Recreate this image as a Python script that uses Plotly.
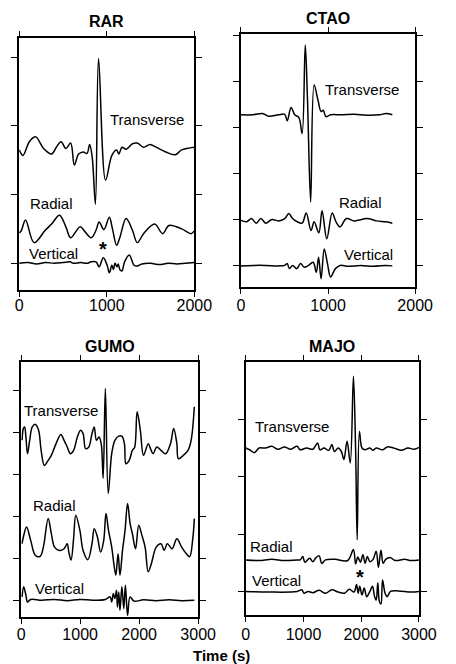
import plotly.graph_objects as go

# ---------------- DATA (time in s, amplitude in arbitrary trace units) ----------------
# RAR
RAR_T_t = [0, 43, 116, 188, 279, 370, 424, 478, 533, 587, 630, 678, 732, 775, 804, 833, 870, 906, 986,
           1058, 1112, 1138, 1174, 1221, 1293, 1348, 1420, 1493, 1565, 1674, 1783, 1855, 2000]
RAR_T_v = [1.65, 1.57, 1.77, 1.84, 1.67, 1.59, 1.69, 1.77, 1.67, 1.75, 1.43, 1.59, 1.62, 1.60, 1.73, 1.55,
           0.86, 2.98, 1.21, 1.57, 1.65, 1.59, 1.69, 1.66, 1.74, 1.75, 1.69, 1.73, 1.69, 1.62, 1.58, 1.65, 1.69]
RAR_R_t = [0, 25, 72, 170, 297, 370, 460, 533, 587, 696, 750, 822, 877, 913, 967, 1029, 1065, 1112, 1148,
           1221, 1293, 1348, 1420, 1547, 1638, 1710, 1855, 1964, 2000]
RAR_R_v = [0.44, 0.48, 0.63, 0.30, 0.48, 0.57, 0.70, 0.53, 0.37, 0.53, 0.46, 0.37, 0.48, 0.60, 0.49, 0.67,
           0.50, 0.26, 0.37, 0.65, 0.48, 0.30, 0.43, 0.57, 0.43, 0.55, 0.50, 0.43, 0.47]
RAR_Z_t = [0, 100, 200, 300, 400, 500, 580, 620, 700, 780, 820, 877, 913, 960, 1004, 1029, 1058, 1076, 1094,
           1116, 1130, 1152, 1174, 1203, 1257, 1312, 1348, 1400, 1500, 1600, 1700, 1800, 1900, 2000]
RAR_Z_v = [0.0, 0.01, -0.01, 0.01, 0.0, 0.01, 0.02, 0.0, 0.01, 0.0, 0.02, 0.02, -0.05, 0.08, -0.03, -0.14,
           -0.03, -0.09, 0.0, -0.05, -0.01, -0.10, -0.11, 0.02, 0.12, -0.03, -0.04, -0.01, 0.0, -0.02, 0.0,
           -0.01, 0.0, 0.01]

# CTAO
CTAO_T_t = [0, 138, 247, 320, 429, 502, 531, 575, 618, 665, 702, 738, 764, 800, 840, 884, 920, 945, 975,
            1029, 1156, 1302, 1447, 1593, 1665, 1738]
CTAO_T_v = [3.28, 3.28, 3.31, 3.25, 3.28, 3.29, 3.15, 3.44, 3.28, 3.22, 2.87, 4.80, 3.60, 1.38, 3.93, 3.60,
            3.35, 3.38, 3.24, 3.28, 3.28, 3.29, 3.27, 3.28, 3.31, 3.28]
CTAO_R_t = [0, 65, 120, 175, 229, 284, 356, 429, 502, 549, 593, 647, 702, 749, 804, 840, 894, 931, 985,
            1047, 1091, 1138, 1211, 1302, 1447, 1556, 1665, 1738]
CTAO_R_v = [0.98, 0.95, 1.02, 0.92, 1.02, 0.92, 1.00, 0.97, 1.02, 1.13, 1.02, 0.95, 0.92, 1.14, 0.76, 0.95,
            0.71, 1.19, 0.58, 1.14, 0.95, 0.84, 1.02, 0.97, 1.02, 0.97, 0.95, 0.92]
CTAO_Z_t = [0, 138, 284, 429, 502, 531, 556, 593, 640, 684, 727, 775, 829, 865, 891, 920, 956, 993, 1029,
            1084, 1138, 1229, 1374, 1520, 1665, 1738]
CTAO_Z_v = [-0.01, 0.0, 0.0, -0.01, 0.0, 0.04, -0.07, 0.0, -0.07, 0.04, -0.04, 0.0, 0.07, -0.15, 0.18, -0.29,
            0.36, 0.04, -0.25, -0.07, 0.0, -0.02, 0.0, -0.02, 0.0, -0.01]

# GUMO
GUMO_T_t = [16, 38, 59, 81, 108, 145, 189, 242, 296, 339, 393, 458, 512, 592, 673, 727, 781, 835, 889, 953,
            1007, 1050, 1093, 1147, 1201, 1239, 1276, 1320, 1357, 1390, 1427, 1476, 1535, 1589, 1654, 1707,
            1750, 1777, 1831, 1885, 1923, 1966, 2020, 2074, 2154, 2192, 2235, 2300, 2370, 2451, 2531, 2585,
            2639, 2666, 2747, 2828, 2881, 2935]
GUMO_T_v = [3.82, 4.10, 4.14, 3.90, 3.50, 3.82, 4.14, 4.20, 4.06, 3.58, 3.22, 3.34, 3.46, 3.74, 3.96, 3.82,
            3.66, 3.50, 3.58, 3.90, 4.06, 3.98, 3.62, 3.66, 3.98, 4.14, 3.82, 3.90, 3.74, 2.91, 5.06, 2.55,
            3.50, 3.82, 3.92, 3.92, 3.74, 3.26, 3.34, 3.58, 3.65, 4.50, 4.06, 3.46, 3.74, 3.62, 3.50, 3.66,
            3.58, 3.50, 3.74, 4.10, 3.74, 3.38, 3.46, 3.58, 3.82, 4.62]
GUMO_R_t = [16, 38, 92, 162, 242, 323, 377, 458, 512, 566, 646, 727, 781, 808, 846, 889, 926, 996, 1050,
            1131, 1201, 1239, 1293, 1347, 1400, 1438, 1481, 1535, 1578, 1605, 1643, 1675, 1718, 1761, 1804,
            1847, 1885, 1939, 1993, 2047, 2101, 2154, 2208, 2289, 2370, 2424, 2478, 2558, 2639, 2720, 2801,
            2855, 2909, 2935]
GUMO_R_v = [1.35, 1.51, 1.75, 1.43, 1.07, 1.05, 1.27, 1.95, 1.59, 1.27, 1.19, 1.23, 1.35, 1.15, 0.96, 1.47,
            2.03, 1.67, 1.19, 0.97, 1.35, 1.71, 1.51, 1.15, 1.43, 2.07, 1.67, 1.27, 0.80, 0.60, 1.11, 0.60,
            1.19, 1.67, 2.31, 1.83, 1.59, 1.23, 1.79, 1.55, 1.27, 0.68, 0.88, 1.27, 1.35, 1.19, 1.35, 1.23,
            1.47, 1.27, 1.11, 1.04, 1.47, 1.95]
GUMO_Z_t = [16, 43, 81, 108, 162, 350, 566, 781, 996, 1212, 1427, 1508, 1535, 1562, 1589, 1616, 1632, 1654,
            1675, 1707, 1740, 1767, 1804, 1847, 1912, 2074, 2289, 2505, 2720, 2935]
GUMO_Z_v = [0.08, 0.32, 0.12, -0.04, 0.02, 0.0, 0.02, -0.01, 0.02, 0.0, 0.02, 0.08, -0.04, 0.16, 0.04, 0.24,
            -0.16, 0.20, -0.24, 0.32, -0.20, 0.36, -0.36, 0.08, -0.02, 0.01, -0.01, 0.01, -0.01, 0.0]

# MAJO
MAJO_T_t = [0, 66, 148, 230, 340, 450, 559, 669, 779, 888, 943, 1053, 1163, 1245, 1283, 1355, 1437, 1492,
            1536, 1601, 1656, 1700, 1755, 1810, 1865, 1903, 1930, 1969, 2013, 2067, 2150, 2205, 2259, 2369,
            2451, 2561, 2698, 2808, 2917, 3000]
MAJO_T_v = [2.50, 2.47, 2.42, 2.50, 2.50, 2.53, 2.48, 2.52, 2.48, 2.53, 2.47, 2.50, 2.48, 2.59, 2.47, 2.50,
            2.46, 2.56, 2.44, 2.50, 2.44, 2.30, 2.62, 2.24, 3.75, 2.47, 0.90, 2.79, 2.50, 2.47, 2.50, 2.46,
            2.50, 2.47, 2.52, 2.50, 2.46, 2.50, 2.48, 2.51]
MAJO_R_t = [0, 230, 450, 669, 888, 943, 987, 1025, 1108, 1163, 1217, 1272, 1316, 1382, 1547, 1766, 1865,
            1903, 1941, 1985, 2029, 2067, 2106, 2150, 2205, 2259, 2298, 2342, 2380, 2424, 2506, 2588, 2753,
            2863, 3000]
MAJO_R_v = [0.55, 0.54, 0.56, 0.54, 0.55, 0.55, 0.61, 0.51, 0.58, 0.52, 0.59, 0.62, 0.49, 0.55, 0.56, 0.54,
            0.73, 0.48, 0.60, 0.51, 0.64, 0.49, 0.61, 0.52, 0.56, 0.70, 0.42, 0.72, 0.49, 0.56, 0.59, 0.54,
            0.56, 0.54, 0.55]
MAJO_Z_t = [0, 395, 888, 971, 1009, 1080, 1163, 1272, 1382, 1492, 1601, 1711, 1793, 1876, 1919, 1947, 1974,
            2013, 2051, 2095, 2150, 2194, 2232, 2259, 2287, 2314, 2342, 2369, 2413, 2451, 2506, 2643, 2863, 3000]
MAJO_Z_v = [0.0, -0.01, 0.0, 0.03, -0.03, 0.0, -0.02, 0.02, -0.03, 0.03, -0.01, -0.03, 0.04, -0.01, 0.12,
            -0.03, 0.09, -0.06, 0.06, -0.09, 0.0, 0.09, -0.09, -0.15, 0.15, -0.17, -0.22, 0.20, -0.03, -0.09,
            0.0, 0.01, -0.01, 0.0]

STATIONS = ["RAR", "CTAO", "GUMO", "MAJO"]
COMPONENTS = ["Transverse", "Radial", "Vertical"]
X_RANGES = [[0, 2000], [0, 2000], [0, 3000], [0, 3000]]
X_TICKS = [[0, 1000, 2000], [0, 1000, 2000], [0, 1000, 2000, 3000], [0, 1000, 2000, 3000]]
Y_RANGES = [[-0.39, 3.28], [-0.47, 5.04], [-0.40, 5.69], [-0.41, 4.0]]
Y_TICKS = [[0, 1, 2, 3], [0, 1, 2, 3, 4, 5], [0, 1, 2, 3, 4, 5], [0, 1, 2, 3]]
# label anchor points (time, amplitude) per component
LABEL_POS = {
    "RAR": [(1457, 2.10), (370, 0.87), (388, 0.14)],
    "CTAO": [(1393, 3.84), (1374, 1.38), (1465, 0.24)],
    "GUMO": [(673, 4.54), (566, 2.27), (646, 0.28)],
    "MAJO": [(806, 2.88), (450, 0.78), (532, 0.19)],
}
ASTERISKS = {"RAR": (957, 0.21), "MAJO": (1974, 0.25)}

TRACES = {
    "RAR": [(RAR_T_t, RAR_T_v), (RAR_R_t, RAR_R_v), (RAR_Z_t, RAR_Z_v)],
    "CTAO": [(CTAO_T_t, CTAO_T_v), (CTAO_R_t, CTAO_R_v), (CTAO_Z_t, CTAO_Z_v)],
    "GUMO": [(GUMO_T_t, GUMO_T_v), (GUMO_R_t, GUMO_R_v), (GUMO_Z_t, GUMO_Z_v)],
    "MAJO": [(MAJO_T_t, MAJO_T_v), (MAJO_R_t, MAJO_R_v), (MAJO_Z_t, MAJO_Z_v)],
}

# ---------------- LAYOUT ----------------
W, H = 456, 664
# panel frames in pixels: left, right, top, bottom
FRAMES = [(16, 200, 38, 290), (249, 432, 34, 287), (18, 204, 362, 617), (254, 436, 362, 615)]
LABEL_STANDOFF = [-5, -2, -3, -1]
FONT = "Liberation Sans, Arial, Helvetica, sans-serif"

fig = go.Figure()
layout = dict(width=W, height=H, margin=dict(l=0, r=0, t=0, b=0), paper_bgcolor="white",
              plot_bgcolor="white", showlegend=False, font=dict(family=FONT, color="black"))
annotations = []

for i, st in enumerate(STATIONS):
    n = "" if i == 0 else str(i + 1)
    xa, ya = "x" + n, "y" + n
    l, r, t, b = FRAMES[i]
    layout["xaxis" + n] = dict(domain=[l / W, r / W], range=X_RANGES[i], tickvals=X_TICKS[i],
                               ticktext=[str(v) for v in X_TICKS[i]], anchor=ya,
                               showline=True, linecolor="black", linewidth=1.5, mirror="ticks",
                               ticks="outside", ticklen=5, tickwidth=1.2, tickcolor="black",
                               showgrid=False, zeroline=False, ticklabelstandoff=LABEL_STANDOFF[i],
                               tickfont=dict(size=16, family=FONT, color="black"))
    layout["yaxis" + n] = dict(domain=[1 - b / H, 1 - t / H], range=Y_RANGES[i], tickvals=Y_TICKS[i],
                               showticklabels=False, anchor=xa,
                               showline=True, linecolor="black", linewidth=1.5, mirror="ticks",
                               ticks="outside", ticklen=6, tickwidth=1.2, tickcolor="black",
                               showgrid=False, zeroline=False)
    for (tt, vv) in TRACES[st]:
        fig.add_trace(go.Scatter(x=tt, y=vv, mode="lines", xaxis=xa, yaxis=ya,
                                 line=dict(color="black", width=1.5, shape="spline", smoothing=1.0),
                                 hoverinfo="skip"))
    for comp, (lx, ly) in zip(COMPONENTS, LABEL_POS[st]):
        annotations.append(dict(x=lx, y=ly, xref=xa, yref=ya, text=comp, showarrow=False,
                                font=dict(size=15, family=FONT, color="black"),
                                xanchor="center", yanchor="middle"))
    if st in ASTERISKS:
        ax_, ay_ = ASTERISKS[st]
        annotations.append(dict(x=ax_, y=ay_, xref=xa, yref=ya, text="<b>*</b>", showarrow=False,
                                font=dict(size=20, family=FONT, color="black"),
                                xanchor="center", yanchor="middle"))
    annotations.append(dict(x=(l + r) / 2 / W, y=1 - (t - 16) / H, xref="paper", yref="paper",
                            text="<b>%s</b>" % st, showarrow=False,
                            font=dict(size=16, family=FONT, color="black"),
                            xanchor="center", yanchor="middle"))

annotations.append(dict(x=228 / W, y=1 - 655 / H, xref="paper", yref="paper", text="<b>Time (s)</b>",
                        showarrow=False, font=dict(size=15, family=FONT, color="black"),
                        xanchor="center", yanchor="middle"))
layout["annotations"] = annotations
fig.update_layout(**layout)
fig.write_html("out.html")
